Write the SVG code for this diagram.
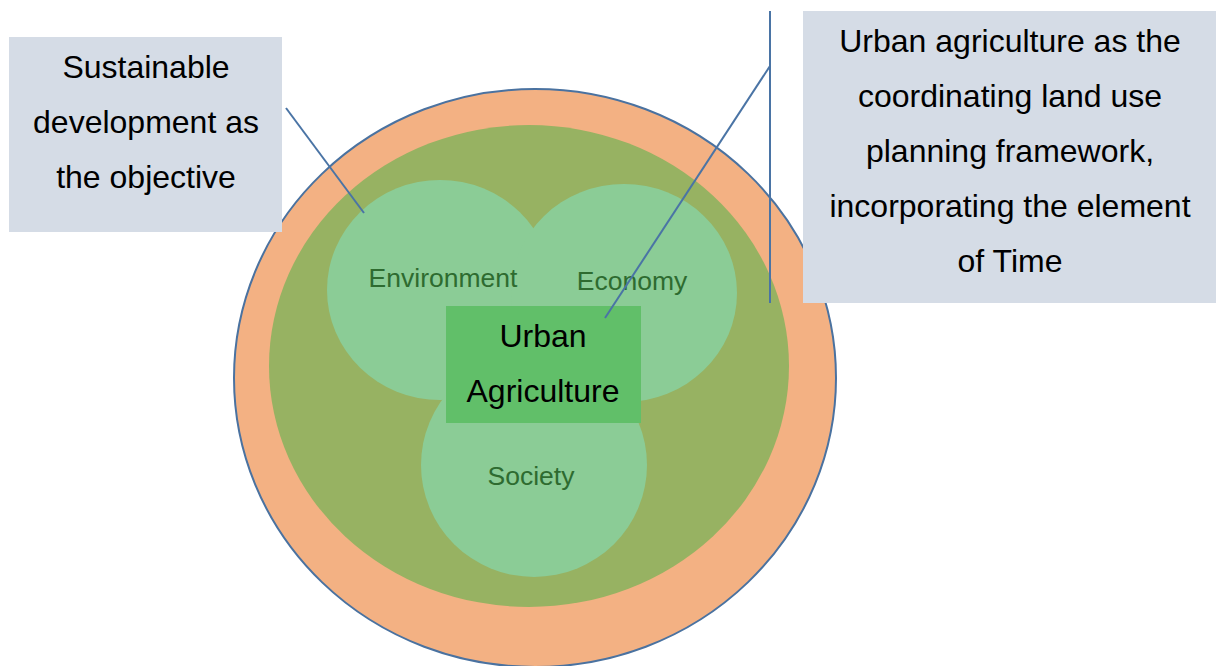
<svg xmlns="http://www.w3.org/2000/svg" width="1222" height="666" viewBox="0 0 1222 666">
<style>
.lbl{font-family:"Liberation Sans",Arial,sans-serif;font-size:32px;fill:#000;text-anchor:middle}
.pil{font-family:"Liberation Sans",Arial,sans-serif;font-size:26.5px;fill:#2E6B30;text-anchor:middle}
.box{fill:#D5DCE6}
.pillar{fill:#8BCC96}
.conn{stroke:#4A74A5;stroke-width:2;fill:none}
</style>
<rect width="1222" height="666" fill="#fff"/>
<g id="outer-ring"><ellipse cx="535" cy="378" rx="301" ry="289" fill="#F3B183" stroke="#4A72A0" stroke-width="2"/></g>
<g id="inner-area"><ellipse cx="529" cy="366" rx="260" ry="241" fill="#97B262"/></g>
<g id="environment"><ellipse class="pillar" cx="440" cy="290" rx="113" ry="110"/></g>
<g id="economy"><ellipse class="pillar" cx="624" cy="293" rx="113" ry="109"/></g>
<g id="society"><ellipse class="pillar" cx="534" cy="465" rx="113" ry="112"/></g>
<g id="pillar-labels">
<text class="pil" x="443" y="287">Environment</text>
<text class="pil" x="632" y="290">Economy</text>
<text class="pil" x="531" y="485">Society</text>
</g>
<g id="urban-agriculture">
<rect x="446" y="306" width="195" height="117" fill="#61BF69"/>
<text class="lbl" x="543" y="347">Urban</text>
<text class="lbl" x="543" y="402">Agriculture</text>
</g>
<g id="sustainable-box">
<rect class="box" x="9" y="37" width="273" height="195"/>
<text class="lbl" x="146" y="78">Sustainable</text>
<text class="lbl" x="146" y="133">development as</text>
<text class="lbl" x="146" y="188">the objective</text>
</g>
<g id="framework-box">
<rect class="box" x="803" y="11" width="413" height="292"/>
<text class="lbl" x="1010" y="52">Urban agriculture as the</text>
<text class="lbl" x="1010" y="107">coordinating land use</text>
<text class="lbl" x="1010" y="162">planning framework,</text>
<text class="lbl" x="1010" y="217">incorporating the element</text>
<text class="lbl" x="1010" y="272">of Time</text>
</g>
<g id="connectors">
<line class="conn" x1="286" y1="108" x2="364" y2="213"/>
<line class="conn" x1="770" y1="11" x2="770" y2="303"/>
<line class="conn" x1="770" y1="66" x2="605" y2="318"/>
</g>
</svg>
